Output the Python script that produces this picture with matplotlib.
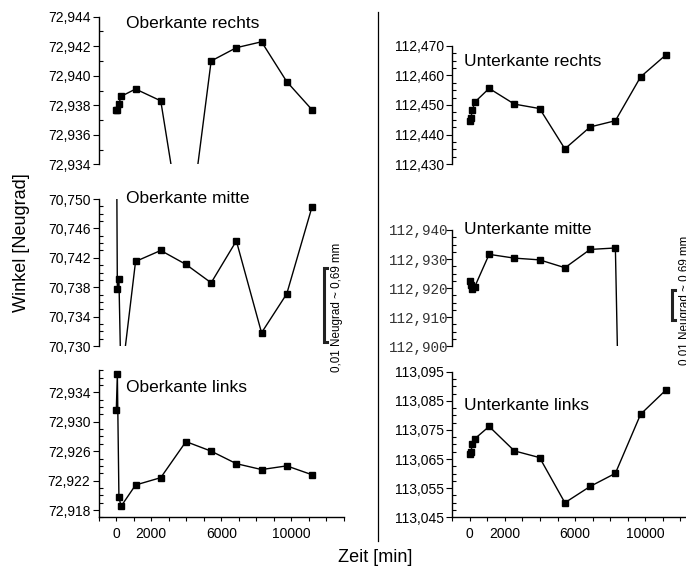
import matplotlib
matplotlib.use("Agg")
import numpy as np
import matplotlib.pyplot as plt
from matplotlib.ticker import FuncFormatter, FixedLocator
from matplotlib.lines import Line2D

plt.rcParams['font.family'] = ['Liberation Sans', 'DejaVu Sans']

# time of each measurement [min]
zeit = [0, 60, 150, 270, 1100, 2540, 3980, 5420, 6860, 8300, 9740, 11180]

# angles [Neugrad]
oberkante_rechts = [72.9377, 72.9377, 72.9381, 72.9386, 72.9391, 72.9383,
                    72.9277, 72.9410, 72.9419, 72.9423, 72.9396, 72.9377]
oberkante_mitte = [70.765, 70.7377, 70.7391, 70.725, 70.7415, 70.7430,
                   70.7411, 70.7386, 70.7443, 70.7318, 70.7371, 70.7489]
oberkante_links = [72.9316, 72.9365, 72.9198, 72.9185, 72.9214, 72.9224,
                   72.9273, 72.9260, 72.9243, 72.9235, 72.9240, 72.9228]
unterkante_rechts = [112.4445, 112.4457, 112.4483, 112.4509, 112.4556, 112.4503,
                     112.4488, 112.4352, 112.4426, 112.4447, 112.4595, 112.4669]
unterkante_mitte = [112.9225, 112.9210, 112.9195, 112.9203, 112.9316, 112.9303,
                    112.9297, 112.9270, 112.9333, 112.9338, 112.50, 112.49]
unterkante_links = [113.0667, 113.0674, 113.0703, 113.0719, 113.0762, 113.0678,
                    113.0655, 113.0500, 113.0556, 113.0601, 113.0804, 113.0887]

W, H = 686, 575
fig = plt.figure(figsize=(W / 100, H / 100), dpi=100)


def px_axes(x0, x1, ytop, ybot):
    return fig.add_axes([x0 / W, 1 - ybot / H, (x1 - x0) / W, (ybot - ytop) / H])


komma = FuncFormatter(lambda v, p: ('%.3f' % v).replace('.', ','))

# (values, title, ylim, first tick, last tick, step, minor per step, px box, title pos, bottom?, mono?)
panels = [
    (oberkante_rechts, 'Oberkante rechts', (72.934, 72.944), 72.934, 72.944, 0.002, 2,
     (98.8, 343.8, 16.7, 164.3), (126, 23), False, False),
    (oberkante_mitte, 'Oberkante mitte', (70.730, 70.750), 70.730, 70.750, 0.004, 4,
     (98.8, 343.8, 199, 346), (126, 198), False, False),
    (oberkante_links, 'Oberkante links', (72.917, 72.937), 72.918, 72.934, 0.004, 4,
     (98.8, 343.8, 370.2, 517.4), (126, 388), True, False),
    (unterkante_rechts, 'Unterkante rechts', (112.430, 112.470), 112.430, 112.470, 0.010, 4,
     (452.3, 697.8, 45.7, 164.3), (464, 62), False, False),
    (unterkante_mitte, 'Unterkante mitte', (112.900, 112.940), 112.900, 112.940, 0.010, 4,
     (452.3, 697.8, 230, 346), (464, 230), False, True),
    (unterkante_links, 'Unterkante links', (113.045, 113.095), 113.045, 113.095, 0.010, 4,
     (452.3, 697.8, 371.7, 517.3), (464, 406), True, False),
]

for werte, titel, ylim, t0, t1, step, nmin, box, tpos, unten, mono in panels:
    ax = px_axes(*box)
    ax.plot(zeit, werte, color='black', lw=1.0, marker='s', ms=4.5)
    ax.set_xlim(-1000, 13000)
    ax.set_ylim(*ylim)
    for s in ['top', 'right']:
        ax.spines[s].set_visible(False)
    ax.spines['left'].set_linewidth(1.0)
    n = int(round((t1 - t0) / step))
    major = [t0 + i * step for i in range(n + 1)]
    ms = step / nmin
    minor = [t0 + k * ms for k in range(int(np.floor((ylim[0] - t0) / ms + 1e-6)),
                                        int(np.ceil((ylim[1] - t0) / ms - 1e-6)) + 1)]
    ax.yaxis.set_major_locator(FixedLocator(major))
    ax.yaxis.set_minor_locator(FixedLocator(minor))
    ax.yaxis.set_major_formatter(komma)
    ax.tick_params(axis='y', which='major', direction='out', length=4, width=0.8,
                   labelsize=10, pad=-1 if mono else 2)
    ax.tick_params(axis='y', which='minor', direction='in', length=3, width=0.8)
    if mono:
        for lab in ax.get_yticklabels():
            lab.set_family('Liberation Mono')
            lab.set_fontsize(10.3)
            lab.set_color('#333333')
    if unten:
        ax.spines['bottom'].set_linewidth(1.0)
        ax.xaxis.set_major_locator(FixedLocator(range(-1000, 14000, 1000)))
        ax.xaxis.set_major_formatter(FuncFormatter(
            lambda v, p: '%d' % v if int(round(v)) in (0, 2000, 6000, 10000) else ''))
        ax.tick_params(axis='x', direction='out', length=3, width=0.8,
                       labelsize=10, pad=4)
    else:
        ax.spines['bottom'].set_visible(False)
        ax.set_xticks([])
    ax.patch.set_alpha(0)
    fig.text(tpos[0] / W, 1 - tpos[1] / H, titel, fontsize=12.5, va='center', ha='left')

# separator line
fig.add_artist(Line2D([378 / W, 378 / W], [1 - 12 / H, 1 - 541 / H],
                      color='black', lw=0.9))

# scale bars (0.01 Neugrad); the right label runs off the edge as in the original
for xb, y0, y1, xt, yt in [(324, 268.3, 341.7, 336.7, 307), (672, 290, 320, 685, 300)]:
    fig.add_artist(Line2D([(xb + 3) / W, xb / W, xb / W, (xb + 3) / W],
                          [1 - y0 / H, 1 - y0 / H, 1 - y1 / H, 1 - y1 / H],
                          color='#222222', lw=2.2, solid_joinstyle='miter'))
    fig.text(xt / W, 1 - yt / H, '0,01 Neugrad ~ 0,69 mm', rotation=90,
             fontsize=8.4, ha='center', va='center')

fig.text(22 / W, 1 - 243 / H, 'Winkel [Neugrad]', rotation=90, fontsize=13,
         ha='center', va='center')
fig.text(375 / W, 1 - 557 / H, 'Zeit [min]', fontsize=13, ha='center', va='center')

fig.savefig('out.png', dpi=100)
